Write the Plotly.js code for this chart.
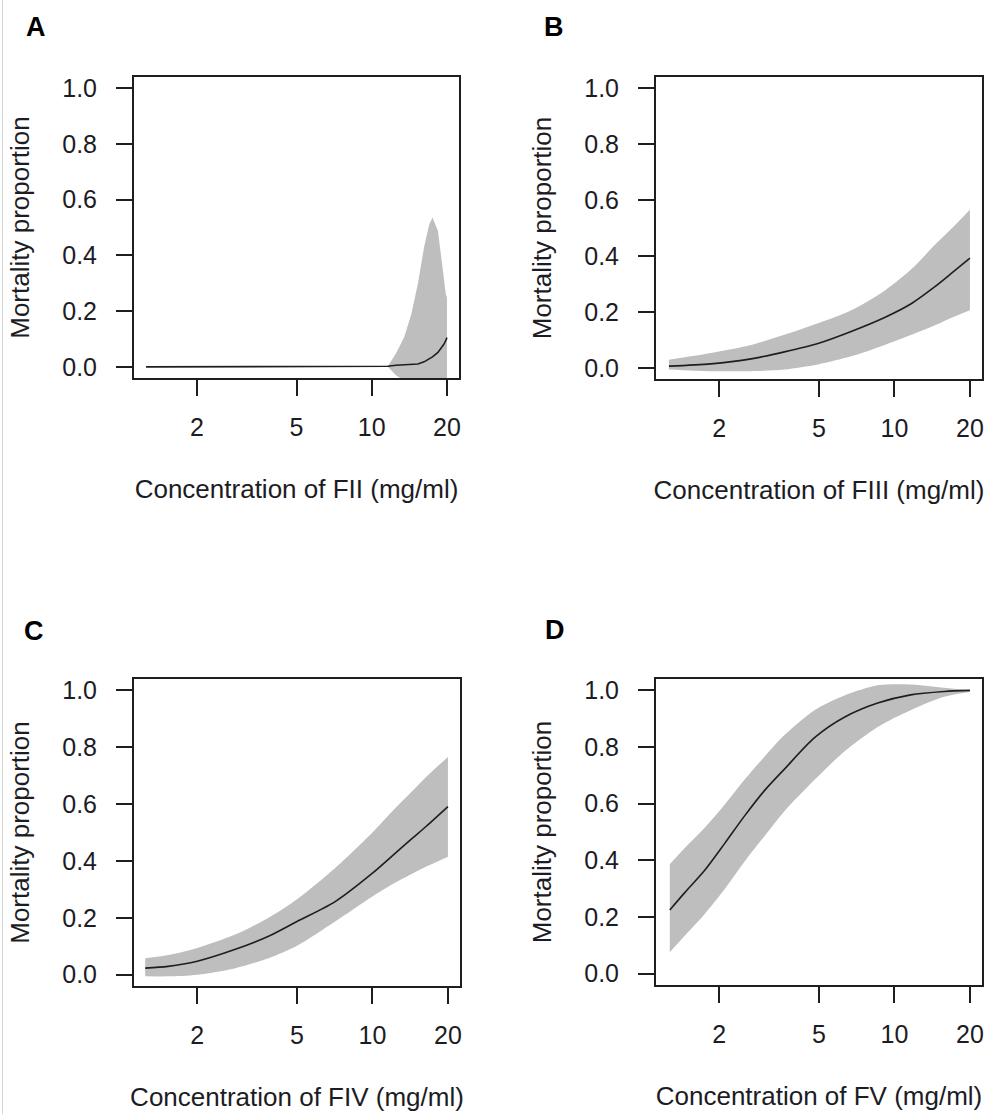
<!DOCTYPE html>
<html>
<head>
<meta charset="utf-8">
<script src="https://cdn.plot.ly/plotly-3.0.1.min.js"></script>
<style>
  html, body { margin: 0; padding: 0; background: #ffffff; }
  #chart { width: 985px; height: 1114px; }
</style>
</head>
<body>
<div id="chart"></div>
<script>
// ---------------- data ----------------
const panelLetters = ['A', 'B', 'C', 'D'];
const xTitles = [
  'Concentration of FII (mg/ml)',
  'Concentration of FIII (mg/ml)',
  'Concentration of FIV (mg/ml)',
  'Concentration of FV (mg/ml)'
];
const yTitle = 'Mortality proportion';
const xTickVals = [2, 5, 10, 20];
const xTickText = ['2', '5', '10', '20'];
const yTickVals = [0, 0.2, 0.4, 0.6, 0.8, 1.0];
const yTickText = ['0.0', '0.2', '0.4', '0.6', '0.8', '1.0'];
const concRange = [1.25, 20];
const propRange = [0, 1];

// A : FII
const xA   = [1.25, 2, 5, 10, 11.6, 12.5, 13.5, 14.4, 15.3, 16.2, 17.0, 17.5, 18.4, 18.9, 19.4, 19.8, 20];
const fitA = [0, 0, 0, 0, 0.002, 0.006, 0.007, 0.008, 0.010, 0.018, 0.028, 0.036, 0.052, 0.065, 0.080, 0.095, 0.105];
const upA  = [0, 0, 0, 0, 0.002, 0.048, 0.107, 0.190, 0.298, 0.430, 0.512, 0.536, 0.488, 0.405, 0.310, 0.260, 0.250];
const loA  = [0, 0, 0, 0, 0, -0.030, -0.050, -0.050, -0.050, -0.050, -0.050, -0.050, -0.050, -0.050, -0.050, -0.050, -0.050];

// B : FIII
const xB   = [1.26, 1.85, 2.68, 3.64, 4.95, 6.72, 9.14, 11.7, 14.5, 17.0, 20];
const fitB = [0.006, 0.014, 0.032, 0.057, 0.087, 0.130, 0.180, 0.230, 0.290, 0.340, 0.392];
const upB  = [0.029, 0.053, 0.082, 0.118, 0.159, 0.206, 0.276, 0.353, 0.440, 0.500, 0.565];
const loB  = [-0.006, -0.012, -0.012, -0.006, 0.012, 0.041, 0.082, 0.118, 0.152, 0.180, 0.206];

// C : FIV
const xC   = [1.24, 1.53, 2, 2.82, 3.85, 5, 7.1, 10, 12, 14.4, 16.4, 20];
const fitC = [0.023, 0.029, 0.047, 0.088, 0.135, 0.187, 0.257, 0.357, 0.418, 0.479, 0.522, 0.591];
const upC  = [0.058, 0.069, 0.094, 0.140, 0.200, 0.265, 0.375, 0.500, 0.575, 0.645, 0.696, 0.766];
const loC  = [-0.006, -0.006, 0.000, 0.022, 0.058, 0.102, 0.187, 0.275, 0.318, 0.355, 0.380, 0.415];

// D : FV
const xD   = [1.27, 1.46, 1.75, 2.10, 2.52, 3.03, 3.64, 4.80, 6.31, 8.57, 11.6, 15.8, 20];
const fitD = [0.225, 0.287, 0.365, 0.459, 0.556, 0.646, 0.722, 0.833, 0.905, 0.955, 0.984, 0.996, 1.000];
const upD  = [0.386, 0.444, 0.515, 0.596, 0.684, 0.766, 0.842, 0.930, 0.982, 1.018, 1.021, 1.009, 1.000];
const loD  = [0.076, 0.135, 0.211, 0.298, 0.395, 0.485, 0.573, 0.684, 0.784, 0.871, 0.930, 0.977, 0.994];

// ---------------- layout geometry (pixels) ----------------
const W = 985, H = 1114;
const boxes = [
  {l: 134, r: 459, t: 77,  b: 378},
  {l: 656, r: 982, t: 77,  b: 379},
  {l: 134, r: 460, t: 679, b: 986},
  {l: 656, r: 982, t: 679, b: 985}
];
const letterPos = [
  {x: 36,  y: 27},
  {x: 554, y: 27},
  {x: 34,  y: 631},
  {x: 555, y: 630}
];

const panels = [
  {x: xA, fit: fitA, up: upA, lo: loA, shape: 'linear'},
  {x: xB, fit: fitB, up: upB, lo: loB, shape: 'spline'},
  {x: xC, fit: fitC, up: upC, lo: loC, shape: 'spline'},
  {x: xD, fit: fitD, up: upD, lo: loD, shape: 'spline'}
];

const bandColor = '#bebebe';
const inkColor = '#1e1e1e';
const tickFont = {family: 'Liberation Sans, Arial, sans-serif', size: 25, color: '#1c1c24'};
const titleFont = {family: 'Liberation Sans, Arial, sans-serif', size: 26, color: '#1c1c24'};

const lx0 = Math.log10(concRange[0]), lx1 = Math.log10(concRange[1]);
const padX = 0.04 * (lx1 - lx0);
const xRange = [lx0 - padX, lx1 + padX];
const padY = 0.04 * (propRange[1] - propRange[0]);
const yRange = [propRange[0] - padY, propRange[1] + padY];

const traces = [];
const layout = {
  width: W, height: H,
  margin: {l: 0, r: 0, t: 0, b: 0},
  paper_bgcolor: '#ffffff',
  plot_bgcolor: '#ffffff',
  showlegend: false,
  annotations: [],
  shapes: [{
    type: 'line', xref: 'paper', yref: 'paper',
    x0: 2.5 / W, x1: 2.5 / W, y0: 0, y1: 1,
    line: {color: '#d4d4d4', width: 1}
  }]
};

panels.forEach((p, i) => {
  const n = i === 0 ? '' : String(i + 1);
  const xa = 'x' + n, ya = 'y' + n;
  const sm = p.shape === 'spline' ? 0.8 : undefined;
  traces.push({
    type: 'scatter', mode: 'lines', x: p.x, y: p.lo, xaxis: xa, yaxis: ya,
    line: {width: 0, color: bandColor, shape: p.shape, smoothing: sm}, hoverinfo: 'skip'
  });
  traces.push({
    type: 'scatter', mode: 'lines', x: p.x, y: p.up, xaxis: xa, yaxis: ya,
    fill: 'tonexty', fillcolor: bandColor,
    line: {width: 0, color: bandColor, shape: p.shape, smoothing: sm}, hoverinfo: 'skip'
  });
  traces.push({
    type: 'scatter', mode: 'lines', x: p.x, y: p.fit, xaxis: xa, yaxis: ya,
    line: {width: 1.6, color: inkColor, shape: p.shape, smoothing: sm}
  });

  const b = boxes[i];
  layout['xaxis' + n] = {
    domain: [b.l / W, b.r / W], anchor: ya,
    type: 'log', range: xRange,
    tickmode: 'array', tickvals: xTickVals, ticktext: xTickText,
    ticks: 'outside', ticklen: 16, tickwidth: 2, tickcolor: inkColor,
    showline: true, mirror: true, linecolor: inkColor, linewidth: 2,
    showgrid: false, zeroline: false,
    tickfont: tickFont, ticklabelstandoff: 10,
    title: {text: xTitles[i], font: titleFont, standoff: 40}
  };
  layout['yaxis' + n] = {
    domain: [1 - b.b / H, 1 - b.t / H], anchor: xa,
    range: yRange,
    tickmode: 'array', tickvals: yTickVals, ticktext: yTickText,
    ticks: 'outside', ticklen: 16, tickwidth: 2, tickcolor: inkColor,
    showline: true, mirror: true, linecolor: inkColor, linewidth: 2,
    showgrid: false, zeroline: false,
    tickfont: tickFont, ticklabelstandoff: 14,
    title: {text: yTitle, font: titleFont, standoff: 25}
  };

  layout.annotations.push({
    text: '<b>' + panelLetters[i] + '</b>',
    xref: 'paper', yref: 'paper',
    x: letterPos[i].x / W, y: 1 - letterPos[i].y / H,
    xanchor: 'center', yanchor: 'middle', showarrow: false,
    font: {family: 'Liberation Sans, Arial, sans-serif', size: 27, color: '#000000'}
  });
});

Plotly.newPlot('chart', traces, layout, {staticPlot: true, displayModeBar: false});
</script>
</body>
</html>
